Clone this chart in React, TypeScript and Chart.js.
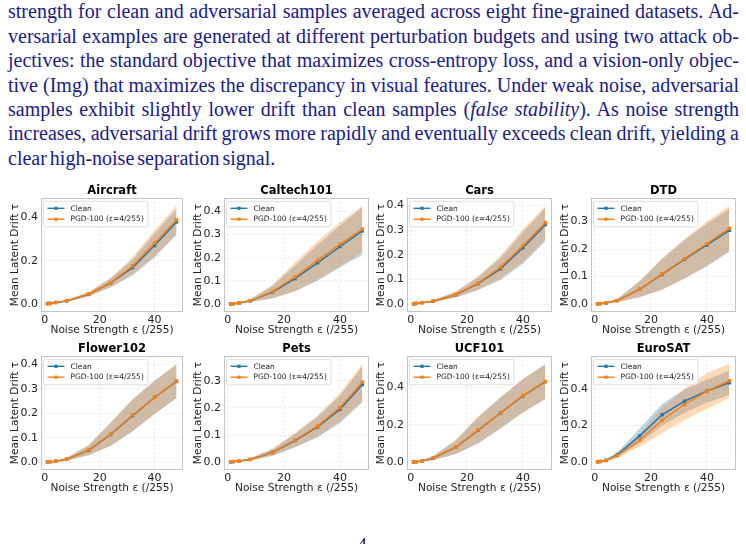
import React, { useEffect, useRef } from 'react';
import { Chart, registerables } from 'chart.js';

Chart.register(...registerables);

// Noise budgets (in /255 units) used for every dataset
const noiseLevels = [1, 2, 4, 8, 16, 24, 32, 40, 48];
const xTickValues = [0, 20, 40];

const ticksTwoStep = [0, 0.2, 0.4];
const ticksFourStep = [0, 0.1, 0.2, 0.3, 0.4];
const ticksThreeStep = [0, 0.1, 0.2, 0.3];

const legendLabels = ['Clean', 'PGD-100 (ε=4/255)'];

// Mean latent drift and its standard deviation, per dataset
const aircraftClean = [0.003, 0.004, 0.008, 0.015, 0.045, 0.098, 0.169, 0.271, 0.38];
const aircraftCleanStd = [0.001, 0.001, 0.002, 0.004, 0.009, 0.02, 0.037, 0.055, 0.06];
const aircraftPgd = [0.001, 0.002, 0.007, 0.015, 0.047, 0.1, 0.177, 0.282, 0.389];
const aircraftPgdStd = [0.001, 0.001, 0.002, 0.004, 0.01, 0.022, 0.04, 0.06, 0.065];

const caltechClean = [0.001, 0.002, 0.005, 0.014, 0.052, 0.11, 0.178, 0.248, 0.315];
const caltechCleanStd = [0.001, 0.001, 0.002, 0.006, 0.027, 0.055, 0.077, 0.09, 0.102];
const caltechPgd = [0.001, 0.002, 0.005, 0.015, 0.055, 0.117, 0.188, 0.258, 0.323];
const caltechPgdStd = [0.001, 0.001, 0.002, 0.006, 0.03, 0.062, 0.083, 0.095, 0.1];

const carsClean = [0.001, 0.003, 0.006, 0.012, 0.038, 0.083, 0.143, 0.228, 0.322];
const carsCleanStd = [0.001, 0.001, 0.002, 0.004, 0.011, 0.026, 0.045, 0.064, 0.067];
const carsPgd = [0.001, 0.003, 0.006, 0.012, 0.039, 0.085, 0.15, 0.237, 0.33];
const carsPgdStd = [0.001, 0.001, 0.002, 0.004, 0.012, 0.028, 0.046, 0.066, 0.068];

const dtdClean = [0.001, 0.002, 0.004, 0.013, 0.054, 0.108, 0.163, 0.215, 0.268];
const dtdCleanStd = [0.001, 0.001, 0.002, 0.006, 0.028, 0.055, 0.07, 0.077, 0.078];
const dtdPgd = [0.001, 0.002, 0.004, 0.013, 0.055, 0.11, 0.165, 0.22, 0.275];
const dtdPgdStd = [0.001, 0.001, 0.002, 0.006, 0.03, 0.058, 0.072, 0.08, 0.082];

const flowerClean = [0.001, 0.002, 0.004, 0.012, 0.048, 0.113, 0.19, 0.265, 0.33];
const flowerCleanStd = [0.001, 0.001, 0.002, 0.006, 0.02, 0.047, 0.065, 0.068, 0.068];
const flowerPgd = [0.001, 0.002, 0.004, 0.012, 0.05, 0.115, 0.193, 0.265, 0.332];
const flowerPgdStd = [0.001, 0.001, 0.002, 0.006, 0.021, 0.048, 0.066, 0.068, 0.07];

const petsClean = [0.001, 0.002, 0.004, 0.01, 0.036, 0.08, 0.13, 0.195, 0.287];
const petsCleanStd = [0.001, 0.001, 0.002, 0.004, 0.012, 0.025, 0.038, 0.05, 0.066];
const petsPgd = [0.001, 0.002, 0.004, 0.01, 0.037, 0.082, 0.133, 0.202, 0.295];
const petsPgdStd = [0.001, 0.001, 0.002, 0.004, 0.013, 0.026, 0.039, 0.052, 0.068];

const ucfClean = [0.002, 0.003, 0.007, 0.022, 0.08, 0.17, 0.262, 0.353, 0.428];
const ucfCleanStd = [0.001, 0.001, 0.003, 0.011, 0.036, 0.07, 0.082, 0.088, 0.092];
const ucfPgd = [0.002, 0.003, 0.007, 0.023, 0.081, 0.172, 0.264, 0.355, 0.43];
const ucfPgdStd = [0.001, 0.001, 0.003, 0.011, 0.037, 0.071, 0.083, 0.089, 0.093];

const eurosatClean = [0.002, 0.004, 0.01, 0.04, 0.143, 0.258, 0.332, 0.387, 0.432];
const eurosatCleanStd = [0.001, 0.002, 0.004, 0.013, 0.04, 0.058, 0.063, 0.063, 0.067];
const eurosatPgd = [0.001, 0.003, 0.009, 0.035, 0.12, 0.228, 0.314, 0.387, 0.443];
const eurosatPgdStd = [0.001, 0.002, 0.004, 0.013, 0.035, 0.07, 0.085, 0.097, 0.092];

const BLUE = '#1f77b4';
const ORANGE = '#ff7f0e';
const BLUE_BAND = 'rgba(31,119,180,0.3)';
const ORANGE_BAND = 'rgba(255,127,14,0.3)';
const SANS = '"DejaVu Sans", Verdana, sans-serif';
const TEXT_INK = '#1b1b82';

type PanelSpec = {
  title: string;
  clean: number[];
  cleanStd: number[];
  pgd: number[];
  pgdStd: number[];
  yTicks: number[];
};

const panels: PanelSpec[] = [
  { title: 'Aircraft', clean: aircraftClean, cleanStd: aircraftCleanStd, pgd: aircraftPgd, pgdStd: aircraftPgdStd, yTicks: ticksTwoStep },
  { title: 'Caltech101', clean: caltechClean, cleanStd: caltechCleanStd, pgd: caltechPgd, pgdStd: caltechPgdStd, yTicks: ticksFourStep },
  { title: 'Cars', clean: carsClean, cleanStd: carsCleanStd, pgd: carsPgd, pgdStd: carsPgdStd, yTicks: ticksFourStep },
  { title: 'DTD', clean: dtdClean, cleanStd: dtdCleanStd, pgd: dtdPgd, pgdStd: dtdPgdStd, yTicks: ticksThreeStep },
  { title: 'Flower102', clean: flowerClean, cleanStd: flowerCleanStd, pgd: flowerPgd, pgdStd: flowerPgdStd, yTicks: ticksFourStep },
  { title: 'Pets', clean: petsClean, cleanStd: petsCleanStd, pgd: petsPgd, pgdStd: petsPgdStd, yTicks: ticksThreeStep },
  { title: 'UCF101', clean: ucfClean, cleanStd: ucfCleanStd, pgd: ucfPgd, pgdStd: ucfPgdStd, yTicks: ticksTwoStep },
  { title: 'EuroSAT', clean: eurosatClean, cleanStd: eurosatCleanStd, pgd: eurosatPgd, pgdStd: eurosatPgdStd, yTicks: ticksTwoStep },
];

// Plot-area geometry of the 4x2 grid (page pixels)
const colLeft = [41, 224, 407, 591];
const colWidth = [143, 146, 146, 146];
const rowTop = [198, 356];
const plotHeight = 114;
const Y_AXIS_W = 40;
const X_AXIS_H = 36;
const TITLE_H = 18;
const RIGHT_PAD = 3;

const paragraphLines = [
  'strength for clean and adversarial samples averaged across eight fine-grained datasets. Ad-',
  'versarial examples are generated at different perturbation budgets and using two attack ob-',
  'jectives: the standard objective that maximizes cross-entropy loss, and a vision-only objec-',
  'tive (Img) that maximizes the discrepancy in visual features. Under weak noise, adversarial',
  null,
  'increases, adversarial drift grows more rapidly and eventually exceeds clean drift, yielding a',
  'clear high-noise separation signal.',
];

const toPoints = (vals: number[]) => noiseLevels.map((x, i) => ({ x, y: vals[i] }));
const shifted = (mean: number[], std: number[], sign: number) =>
  noiseLevels.map((x, i) => ({ x, y: mean[i] + sign * std[i] }));

// Frame around the axes plus the in-axes legend box
const overlayPlugin = {
  id: 'axesOverlay',
  afterDatasetsDraw(chart: any) {
    const { ctx, chartArea: a } = chart;
    ctx.save();
    ctx.strokeStyle = '#c4c4c4';
    ctx.lineWidth = 1;
    ctx.strokeRect(Math.round(a.left) + 0.5, Math.round(a.top) + 0.5,
      Math.round(a.right - a.left) - 1, Math.round(a.bottom - a.top) - 1);

    ctx.font = `7.5px ${SANS}`;
    const textW = Math.max(...legendLabels.map((t) => ctx.measureText(t).width));
    const bx = a.left + 2.5;
    const by = a.top + 3.3;
    const bw = 27 + textW + 4;
    const bh = 25.5;
    ctx.beginPath();
    ctx.roundRect(bx, by, bw, bh, 2);
    ctx.fillStyle = 'rgba(255,255,255,0.85)';
    ctx.fill();
    ctx.strokeStyle = '#d4d4d4';
    ctx.lineWidth = 0.8;
    ctx.stroke();

    const colors = [BLUE, ORANGE];
    legendLabels.forEach((label, i) => {
      const cy = by + 7 + i * 10.9;
      ctx.strokeStyle = colors[i];
      ctx.lineWidth = 1.4;
      ctx.beginPath();
      ctx.moveTo(bx + 4, cy);
      ctx.lineTo(bx + 21, cy);
      ctx.stroke();
      ctx.fillStyle = colors[i];
      ctx.fillRect(bx + 12.5 - 1.6, cy - 1.6, 3.2, 3.2);
      ctx.fillStyle = '#222';
      ctx.textBaseline = 'middle';
      ctx.textAlign = 'left';
      ctx.fillText(label, bx + 27, cy + 0.3);
    });
    ctx.restore();
  },
};

function DriftPanel({ spec, left, top, width }: { spec: PanelSpec; left: number; top: number; width: number }) {
  const ref = useRef<HTMLCanvasElement | null>(null);
  const cw = width + Y_AXIS_W + RIGHT_PAD;
  const ch = plotHeight + TITLE_H + X_AXIS_H;

  useEffect(() => {
    if (!ref.current) return;
    const { clean, cleanStd, pgd, pgdStd, yTicks } = spec;
    const all = [
      ...clean.map((v, i) => v - cleanStd[i]), ...clean.map((v, i) => v + cleanStd[i]),
      ...pgd.map((v, i) => v - pgdStd[i]), ...pgd.map((v, i) => v + pgdStd[i]),
    ];
    const lo = Math.min(...all);
    const hi = Math.max(...all);
    const m = (hi - lo) * 0.08;
    const xLo = noiseLevels[0];
    const xHi = noiseLevels[noiseLevels.length - 1];
    const xm = (xHi - xLo) * 0.05;

    const tickFont = { family: SANS, size: 11 };
    const labelFont = { family: SANS, size: 10.6 };
    const gridColor = 'rgba(0,0,0,0.1)';

    const chart = new Chart(ref.current, {
      type: 'line',
      data: {
        datasets: [
          { data: shifted(clean, cleanStd, 1), borderWidth: 0, pointRadius: 0, fill: false, order: 10 },
          { data: shifted(clean, cleanStd, -1), borderWidth: 0, pointRadius: 0, fill: 0, backgroundColor: BLUE_BAND, order: 10 },
          { data: shifted(pgd, pgdStd, 1), borderWidth: 0, pointRadius: 0, fill: false, order: 8 },
          { data: shifted(pgd, pgdStd, -1), borderWidth: 0, pointRadius: 0, fill: 2, backgroundColor: ORANGE_BAND, order: 8 },
          {
            label: legendLabels[0], data: toPoints(clean), borderColor: BLUE, borderWidth: 1.5,
            pointStyle: 'rect', pointRadius: 2.4, pointBackgroundColor: BLUE, pointBorderWidth: 0,
            fill: false, tension: 0, order: 2,
          },
          {
            label: legendLabels[1], data: toPoints(pgd), borderColor: ORANGE, borderWidth: 1.5,
            pointStyle: 'rect', pointRadius: 2.4, pointBackgroundColor: ORANGE, pointBorderWidth: 0,
            fill: false, tension: 0, order: 1,
          },
        ],
      },
      options: {
        responsive: false,
        animation: false,
        events: [],
        layout: { padding: { top: TITLE_H - 13.8, right: RIGHT_PAD, left: 0, bottom: 0 } },
        plugins: {
          legend: { display: false },
          tooltip: { enabled: false },
          title: {
            display: true,
            text: spec.title,
            fullSize: false,
            color: '#000',
            font: { family: SANS, size: 11.5, weight: 'bold' },
            padding: 0,
          },
        },
        scales: {
          x: {
            type: 'linear',
            min: xLo - xm,
            max: xHi + xm,
            afterBuildTicks: (s: any) => { s.ticks = xTickValues.map((v) => ({ value: v })); },
            afterFit: (s: any) => { s.height = X_AXIS_H; },
            grid: { color: gridColor, drawTicks: false, lineWidth: 0.8 },
            border: { display: false, dash: [2, 2] },
            ticks: { font: tickFont, color: '#222', padding: 1.5, maxRotation: 0, callback: (v: any) => String(v) },
            title: { display: true, text: 'Noise Strength ε (/255)', font: labelFont, color: '#222', padding: { top: 0, bottom: 11.7 } },
          },
          y: {
            type: 'linear',
            min: lo - m,
            max: hi + m,
            afterBuildTicks: (s: any) => { s.ticks = yTicks.map((v) => ({ value: v })); },
            afterFit: (s: any) => { s.width = Y_AXIS_W; },
            grid: { color: gridColor, drawTicks: false, lineWidth: 0.8 },
            border: { display: false, dash: [2, 2] },
            ticks: { font: tickFont, color: '#222', padding: 3, callback: (v: any) => Number(v).toFixed(1) },
            title: { display: true, text: 'Mean Latent Drift τ', font: labelFont, color: '#222', padding: { top: 7.5, bottom: 0 } },
          },
        },
      },
      plugins: [overlayPlugin],
    } as any);
    return () => chart.destroy();
  }, [spec]);

  return (
    <canvas
      ref={ref}
      width={cw}
      height={ch}
      style={{ position: 'absolute', left: left - Y_AXIS_W, top: top - TITLE_H, width: cw, height: ch }}
    />
  );
}

const lineStyle: React.CSSProperties = {
  textAlign: 'justify',
  textAlignLast: 'justify',
  wordSpacing: '-2px',
  whiteSpace: 'normal',
};

export default function App() {
  return (
    <div style={{ position: 'absolute', left: 0, top: 0, width: 746, height: 544, overflow: 'hidden', background: '#fff' }}>
      <div
        style={{
          position: 'absolute', left: 8, top: -0.6, width: 731,
          fontFamily: '"Liberation Serif", "Times New Roman", serif',
          fontSize: 20, lineHeight: '24.4px', color: TEXT_INK,
        }}
      >
        {paragraphLines.map((line, i) =>
          line === null ? (
            <div key={i} style={lineStyle}>
              samples exhibit slightly lower drift than clean samples (<i>false stability</i>). As noise strength
            </div>
          ) : (
            <div key={i} style={i === paragraphLines.length - 1 ? { ...lineStyle, textAlignLast: 'left' } : lineStyle}>
              {line}
            </div>
          ),
        )}
      </div>
      {panels.map((spec, i) => {
        const col = i % 4;
        const row = Math.floor(i / 4);
        return <DriftPanel key={spec.title} spec={spec} left={colLeft[col]} top={rowTop[row]} width={colWidth[col]} />;
      })}
      <div
        style={{
          position: 'absolute', left: 357, top: 532.5,
          fontFamily: '"Liberation Serif", "Times New Roman", serif',
          fontSize: 20, lineHeight: '24.4px', color: TEXT_INK,
        }}
      >
        4
      </div>
    </div>
  );
}
